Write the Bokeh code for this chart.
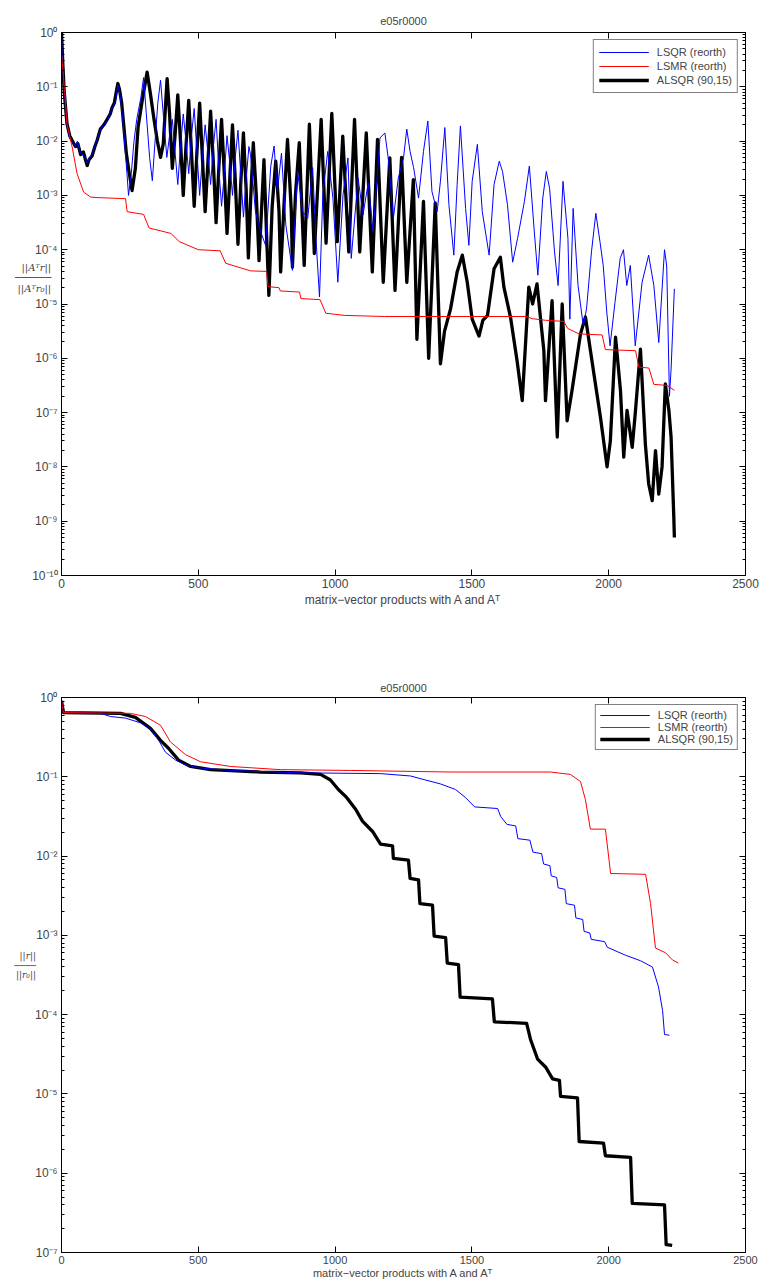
from bokeh.plotting import figure
from bokeh.models import (Range1d, FixedTicker, CustomJSTickFormatter, LogAxis, LinearAxis,
                          Legend, LegendItem)
from bokeh.layouts import column
from bokeh.embed import file_html
from bokeh.resources import INLINE

# ---------------- data (x: matrix-vector products, *_exp: log10 of relative residual) -------------
# Top panel: ||A^T r|| / ||A^T r0||
lsqr_top_x = [0, 5, 10, 20, 30, 40, 50, 58, 68, 78, 86, 94, 102, 112, 124, 132, 145, 158, 170, 180, 190,
              198, 206, 214, 224, 235, 245, 255, 265, 275, 290, 300, 310, 322, 332, 342, 352, 362, 372, 385,
              395, 405, 415, 425, 435, 445, 455, 465, 475, 485, 495, 505, 515, 525, 535, 545, 555, 565, 575,
              585, 595, 605, 615, 625, 635, 645, 655, 665, 675, 685,
              691, 709, 728, 746, 765, 777, 789, 804, 820, 844, 863, 881, 900, 918, 930, 943, 955, 973, 992,
              1010, 1029, 1047, 1059, 1084, 1102, 1121, 1139, 1164, 1182, 1194, 1213, 1231, 1250, 1262, 1274,
              1287, 1305, 1323, 1339, 1354, 1373, 1385, 1401, 1416, 1434, 1446, 1458, 1477, 1489, 1501, 1520,
              1538, 1563, 1581, 1600, 1612, 1630, 1649, 1667, 1692, 1710, 1729, 1741, 1759, 1772, 1784, 1802,
              1815, 1833, 1851, 1858, 1870, 1888, 1907, 1919, 1937, 1953, 1968, 1980, 1993, 2005, 2023, 2042,
              2054, 2066, 2079, 2097, 2122, 2146, 2165, 2183, 2204, 2212, 2222, 2228, 2240]
lsqr_top_exp = [0, -0.7, -1.05, -1.7, -1.95, -2.0, -2.1, -2.0, -2.2, -2.25, -2.3, -2.4, -2.3, -2.25, -2.05,
                -1.95, -1.75, -1.7, -1.6, -1.45, -1.35, -1.25, -0.97, -1.15, -1.6, -2.3, -3.0, -2.6, -2.0, -1.6,
                -1.2, -0.83, -1.5, -2.3, -2.73, -2.0, -1.3, -0.88, -1.5, -2.3,
                -1.9, -1.6, -2.2, -2.8, -2.1, -1.5, -2.0, -2.6, -1.9, -1.4, -2.2, -3.0, -2.3, -1.7, -2.2, -2.8,
                -2.1, -1.6, -2.5, -3.2, -2.6, -1.9, -2.4, -3.0, -2.3, -1.8, -2.6, -3.4, -2.7, -2.1,
                -2.25, -3.3, -3.67, -3.92, -2.46, -2.09, -2.93, -2.22, -3.55, -4.38, -2.56, -3.3, -3.42, -2.49,
                -3.79, -4.87, -2.99, -2.19, -3.05, -4.6, -2.99, -2.31, -4.16, -2.68, -3.36, -2.77, -3.67, -1.94,
                -1.85, -2.31, -3.42, -2.68, -2.31, -1.78, -2.19, -2.49, -3.05, -2.19, -1.63, -2.93, -3.3, -2.74,
                -1.75, -3.17, -4.1, -2.8, -1.72, -3.24, -3.92, -2.74, -2.06, -3.3, -4.1, -2.8, -2.37, -2.56,
                -3.17, -4.23, -3.79, -3.11, -2.46, -3.73, -4.47, -3.05, -2.56, -2.87, -4.04, -4.66, -2.74, -3.79,
                -5.28, -3.24, -4.66, -5.4, -5.09, -4.04, -3.33, -3.85, -4.29, -5.15, -5.77, -4.97, -4.16, -4.0,
                -4.66, -4.29, -5.77, -4.6, -4.1, -4.66, -5.71, -4.0, -4.3, -6.7, -6.2, -4.72]

lsmr_top_x = [0, 10, 20, 39, 57, 81, 106, 130, 234, 240, 300, 320, 400, 430, 500, 580, 600, 691, 750, 755,
              795, 800, 870, 875, 945, 966, 1034, 1181, 1700, 1720, 1769, 1836, 1850, 1891, 1976, 1988, 2098,
              2110, 2147, 2165, 2214, 2240]
lsmr_top_exp = [-0.36, -1.0, -1.68, -2.11, -2.6, -2.94, -3.03, -3.04, -3.06, -3.3, -3.35, -3.6, -3.7, -3.85,
                -4.0, -4.02, -4.25, -4.39, -4.4, -4.68, -4.7, -4.76, -4.78, -4.9, -4.92, -5.17, -5.21, -5.23,
                -5.23, -5.27, -5.3, -5.32, -5.45, -5.55, -5.57, -5.84, -5.86, -6.16, -6.18, -6.48, -6.5, -6.59]

alsqr_top_x = [0, 5, 10, 20, 30, 39, 51, 60, 70, 80, 88, 94, 100, 112, 122, 130, 142, 155, 167, 178, 185,
               193, 200, 206, 212, 220, 228, 237, 246, 258, 270, 280, 295, 313, 325, 337, 350, 362, 372, 386,
               395, 405, 415, 425, 435, 445, 455, 465, 475, 485, 495, 505, 515, 525, 535, 545, 555, 565, 575,
               585, 595, 605, 615, 625, 635, 645, 655, 665, 675, 683, 692,
               701, 712, 722, 740, 750, 758, 770, 783, 795, 801, 815, 826, 840, 844, 855, 869, 880,
               887, 906, 924, 949, 967, 988, 1008, 1028, 1050, 1071, 1090, 1114, 1136, 1155, 1176, 1200, 1219,
               1243, 1262, 1286, 1299, 1323, 1342, 1366, 1385, 1400, 1422, 1446, 1465, 1483, 1501, 1526, 1540,
               1557, 1581, 1604, 1617, 1641, 1665, 1684, 1708, 1722, 1738, 1763, 1769, 1793, 1812, 1830, 1848,
               1866, 1897, 1915, 1946, 1970, 1994, 2006, 2025, 2043, 2055, 2067, 2086, 2098, 2116, 2134, 2146,
               2159, 2171, 2183, 2195, 2207, 2220, 2228, 2238, 2240]
alsqr_top_exp = [0, -0.6, -1.1, -1.68, -1.9, -1.99, -2.1, -2.05, -2.25, -2.2, -2.35, -2.45, -2.35, -2.27,
                 -2.1, -1.99, -1.78, -1.7, -1.6, -1.5, -1.38, -1.3, -1.1, -0.94, -1.05, -1.3, -1.74, -2.23,
                 -2.54, -2.91, -2.5, -1.74, -1.25, -0.73, -1.13, -1.56, -1.99, -2.3, -2.05, -0.85,
                 -1.5, -2.5, -1.9, -1.15, -2.0, -3.0, -2.1, -1.25, -2.2, -3.2, -2.2, -1.3, -2.3, -3.3, -2.4,
                 -1.45, -2.4, -3.5, -2.5, -1.6, -2.6, -3.7, -2.7, -1.7, -2.7, -3.9, -2.8, -1.85, -2.9, -4.15,
                 -3.0,
                 -2.03, -3.0, -4.2, -2.34, -3.8, -4.84, -3.2, -2.37, -3.3, -4.41, -3.0,
                 -1.97, -3.3, -4.32, -3.0, -2.03, -3.4, -4.29, -1.69, -4.07, -1.6, -3.88, -1.49, -3.85, -1.91,
                 -4.04, -1.6, -4.04, -1.85, -4.41, -1.97, -4.6, -2.31, -4.75, -2.3, -4.6, -2.71, -5.65, -3.11,
                 -6.0, -3.14, -6.1, -5.5, -5.09, -4.41, -4.1, -4.6, -5.28, -5.59, -5.3, -5.21, -4.35, -4.14,
                 -4.69, -5.24, -6.04, -6.78, -4.69, -5.0, -4.63, -5.86, -6.78, -4.94, -7.45, -5.0, -7.15, -6.59,
                 -5.55, -5.24, -6.29, -7.09, -8.0, -7.52, -5.61, -6.59, -7.82, -6.96, -7.64, -6.96, -5.83, -7.58,
                 -8.31, -8.62, -7.7, -8.5, -8.0, -6.47, -6.96, -7.45, -8.93, -9.3]

# Bottom panel: ||r|| / ||r0||
lsqr_bot_x = [0, 7, 143, 179, 234, 289, 325, 355, 380, 417, 453, 508, 618, 874, 1166, 1276, 1330, 1385,
              1440, 1476, 1510, 1594, 1605, 1628, 1660, 1668, 1712, 1723, 1755, 1762, 1785, 1790, 1810, 1815,
              1840, 1845, 1875, 1880, 1905, 1910, 1931, 1936, 1985, 1995, 2061, 2116, 2160, 2182, 2197, 2204,
              2222]
lsqr_bot_exp = [-0.04, -0.19, -0.2, -0.24, -0.26, -0.32, -0.39, -0.54, -0.69, -0.79, -0.85, -0.89, -0.92,
                -0.95, -0.96, -0.99, -1.04, -1.09, -1.16, -1.26, -1.38, -1.4, -1.5, -1.6, -1.62, -1.78, -1.8,
                -1.95, -1.97, -2.1, -2.12, -2.25, -2.27, -2.4, -2.42, -2.6, -2.62, -2.78, -2.8, -2.95, -2.97,
                -3.05, -3.08, -3.15, -3.25, -3.32, -3.4, -3.65, -3.95, -4.25, -4.26]

lsmr_bot_x = [0, 7, 252, 307, 362, 398, 453, 508, 618, 800, 1056, 1422, 1787, 1860, 1897, 1915, 1933, 1988,
              2007, 2135, 2153, 2171, 2208, 2233, 2255]
lsmr_bot_exp = [-0.04, -0.19, -0.2, -0.24, -0.35, -0.56, -0.72, -0.81, -0.87, -0.91, -0.92, -0.94, -0.94,
                -0.97, -1.06, -1.29, -1.66, -1.66, -2.22, -2.23, -2.6, -3.16, -3.22, -3.31, -3.35]

alsqr_bot_x = [0, 7, 216, 270, 325, 362, 391, 428, 472, 545, 727, 874, 947, 983, 1012, 1042, 1075, 1100,
               1137, 1166, 1210, 1213, 1268, 1274, 1305, 1310, 1356, 1362, 1404, 1410, 1451, 1457, 1575, 1582,
               1700, 1714, 1740, 1769, 1795, 1820, 1824, 1886, 1892, 1981, 1988, 2080, 2086, 2204, 2210, 2232]
alsqr_bot_exp = [-0.04, -0.19, -0.2, -0.25, -0.39, -0.54, -0.64, -0.79, -0.87, -0.91, -0.94, -0.95, -0.97,
                 -1.04, -1.16, -1.26, -1.41, -1.56, -1.69, -1.85, -1.87, -2.03, -2.05, -2.28, -2.3, -2.6,
                 -2.62, -3.01, -3.03, -3.35, -3.37, -3.78, -3.8, -4.09, -4.11, -4.31, -4.56, -4.66, -4.81,
                 -4.83, -5.03, -5.05, -5.6, -5.62, -5.78, -5.8, -6.38, -6.4, -6.9, -6.91]

x_ticks = [0, 500, 1000, 1500, 2000, 2500]
title_text = "e05r0000"
xlabel_text = "matrix\u2212vector products with A and A\u1d40"
legend_labels = ["LSQR (reorth)", "LSMR (reorth)", "ALSQR (90,15)"]
ylabel_top = "||A\u1d40r||\n" + "\u2500" * 6 + "\n||A\u1d40r\u2080||" + "\n" * 5
ylabel_bot = "||r||\n" + "\u2500" * 4 + "\n||r\u2080||" + "\n" * 2

FONT = "Liberation Sans"

sup_js = """
const e = Math.round(Math.log10(tick));
const m = {"-": "\u207b", "0": "\u2070", "1": "\u00b9", "2": "\u00b2", "3": "\u00b3", "4": "\u2074",
           "5": "\u2075", "6": "\u2076", "7": "\u2077", "8": "\u2078", "9": "\u2079"};
return "10" + String(e).split("").map(c => m[c]).join("");
"""
blank_js = "return '';"


def make_panel(height, min_top, min_bottom, ymin_exp, bx, be, rx, re_, ax, ae, ylab, ylab_size,
               ylab_standoff, title_standoff, tick_size, xlab_standoff, leg_font, leg_h, leg_pad):
    y_ticks = [10.0 ** k for k in range(ymin_exp, 1)]
    y_minor = [m * 10.0 ** k for k in range(ymin_exp, 0) for m in range(2, 10)]
    p = figure(width=763, height=height, y_axis_type="log", output_backend="svg", toolbar_location=None,
               x_range=Range1d(0, 2500), y_range=Range1d(10.0 ** ymin_exp, 1.0),
               min_border_left=61, min_border_right=18, min_border_top=min_top,
               min_border_bottom=min_bottom)
    p.background_fill_color = "white"
    p.border_fill_color = "white"
    p.outline_line_color = "black"
    p.outline_line_width = 1
    p.grid.visible = False

    p.title.text = title_text
    p.title.align = "center"
    p.title.text_font = FONT
    p.title.text_font_style = "normal"
    p.title.text_font_size = "11px"
    p.title.standoff = title_standoff

    xt = FixedTicker(ticks=x_ticks, minor_ticks=[])
    yt = FixedTicker(ticks=y_ticks, minor_ticks=y_minor)

    xa = p.below[0]
    xa.ticker = xt
    xa.axis_label = xlabel_text
    xa.axis_label_text_font = FONT
    xa.axis_label_text_font_style = "normal"
    xa.axis_label_text_font_size = tick_size
    xa.major_label_text_font = FONT
    xa.major_label_text_font_size = tick_size
    xa.major_tick_in = 6
    xa.major_tick_out = 0
    xa.minor_tick_in = 0
    xa.minor_tick_out = 0
    xa.major_label_standoff = 3
    xa.axis_label_standoff = xlab_standoff

    ya = p.left[0]
    ya.ticker = yt
    ya.formatter = CustomJSTickFormatter(code=sup_js)
    ya.major_label_text_font = FONT
    ya.major_label_text_font_size = "12px"
    ya.major_tick_in = 6
    ya.major_tick_out = 0
    ya.minor_tick_in = 3
    ya.minor_tick_out = 0
    ya.major_label_standoff = 4
    ya.axis_label = ylab
    ya.axis_label_orientation = "horizontal"
    ya.axis_label_text_font = "DejaVu Serif"
    ya.axis_label_text_font_style = "italic"
    ya.axis_label_text_font_size = ylab_size
    ya.axis_label_text_align = "center"
    ya.axis_label_text_line_height = 0.95
    ya.axis_label_standoff = ylab_standoff

    top_ax = LinearAxis(ticker=xt, formatter=CustomJSTickFormatter(code=blank_js), major_tick_in=6,
                        major_tick_out=0, minor_tick_in=0, minor_tick_out=0, major_label_standoff=0)
    p.add_layout(top_ax, "above")
    right_ax = LogAxis(ticker=yt, formatter=CustomJSTickFormatter(code=blank_js), major_tick_in=6,
                       major_tick_out=0, minor_tick_in=3, minor_tick_out=0, major_label_standoff=0)
    p.add_layout(right_ax, "right")

    ra = p.line(ax, [10.0 ** v for v in ae], line_color="black", line_width=3.3, line_join="round")
    rb = p.line(bx, [10.0 ** v for v in be], line_color="#0000ff", line_width=1)
    rr = p.line(rx, [10.0 ** v for v in re_], line_color="#ff0000", line_width=1)

    legend = Legend(items=[LegendItem(label=legend_labels[0], renderers=[rb]),
                           LegendItem(label=legend_labels[1], renderers=[rr]),
                           LegendItem(label=legend_labels[2], renderers=[ra])],
                    location="top_right", border_line_color="black", border_line_width=1,
                    label_text_font=FONT, label_text_font_size=leg_font, glyph_width=50,
                    glyph_height=leg_h, label_height=leg_h, spacing=0, padding=leg_pad, margin=7,
                    label_standoff=8, background_fill_color="white", background_fill_alpha=1)
    p.add_layout(legend)
    return p


p1 = make_panel(640, 32, 65, -10, lsqr_top_x, lsqr_top_exp, lsmr_top_x, lsmr_top_exp, alsqr_top_x,
                alsqr_top_exp, ylabel_top, "10px", -22, 12, "12px", 2, "11px", 14, 5)
p2 = make_panel(641, 57, 26, -7, lsqr_bot_x, lsqr_bot_exp, lsmr_bot_x, lsmr_bot_exp, alsqr_bot_x,
                alsqr_bot_exp, ylabel_bot, "9px", -4, 8, "11px", 0, "11px", 10, 4)

layout = column(p1, p2, spacing=0)
open("out.html", "w").write(file_html(layout, INLINE))
